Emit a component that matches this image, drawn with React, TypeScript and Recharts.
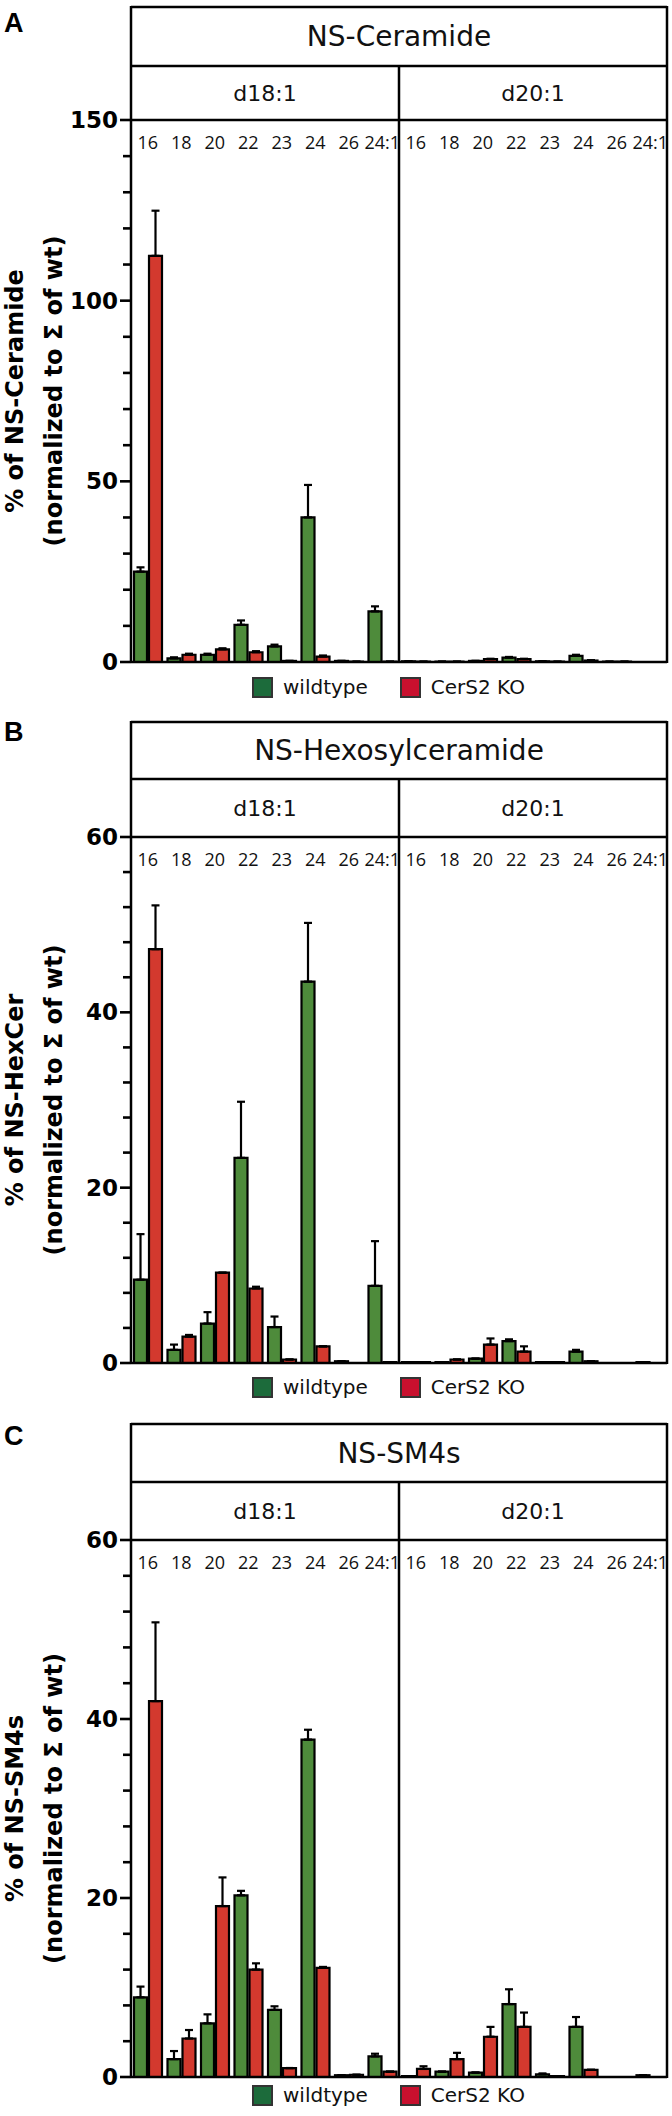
import { BarChart, Bar, XAxis, YAxis, ErrorBar, ReferenceLine } from 'recharts'

const chains = ['16', '18', '20', '22', '23', '24', '26', '24:1']
const bases = ['d18:1', 'd20:1']
const seriesNames = ['wildtype', 'CerS2 KO']

// NS-Ceramide (d18:1 values first, then d20:1)
const cerWt = [25, 1.0, 2.0, 10.3, 4.3, 40, 0.3, 14, 0.2, 0.1, 0.3, 1.2, 0.2, 1.7, 0.1, 0]
const cerWtErr = [1.2, 0.3, 0.3, 1.2, 0.5, 9, 0, 1.4, 0, 0, 0, 0.2, 0, 0.3, 0, 0]
const cerKo = [112.4, 2.0, 3.5, 2.7, 0.3, 1.5, 0.1, 0.1, 0.1, 0.1, 0.8, 0.8, 0.1, 0.4, 0.1, 0]
const cerKoErr = [12.5, 0.3, 0.3, 0.3, 0, 0.3, 0, 0, 0, 0, 0.1, 0.1, 0, 0.1, 0, 0]

// NS-Hexosylceramide
const hexWt = [9.5, 1.5, 4.5, 23.4, 4.1, 43.5, 0.2, 8.8, 0.1, 0.1, 0.5, 2.5, 0.1, 1.3, 0, 0.1]
const hexWtErr = [5.2, 0.6, 1.3, 6.4, 1.2, 6.7, 0, 5.1, 0, 0, 0, 0.2, 0, 0.2, 0, 0]
const hexKo = [47.2, 3.0, 10.3, 8.5, 0.4, 1.9, 0, 0.1, 0.1, 0.4, 2.1, 1.3, 0.1, 0.2, 0, 0]
const hexKoErr = [5.0, 0.2, 0, 0.2, 0, 0, 0, 0, 0, 0, 0.7, 0.6, 0, 0, 0, 0]

// NS-SM4s
const smWt = [8.9, 2.0, 6.0, 20.3, 7.5, 37.7, 0.2, 2.3, 0.1, 0.6, 0.5, 8.15, 0.3, 5.6, 0, 0.2]
const smWtErr = [1.2, 0.9, 1.0, 0.5, 0.4, 1.1, 0, 0.3, 0, 0, 0, 1.65, 0.1, 1.1, 0, 0]
const smKo = [42.0, 4.3, 19.1, 12.0, 1.0, 12.2, 0.25, 0.6, 0.9, 2.0, 4.5, 5.6, 0.1, 0.8, 0, 0]
const smKoErr = [8.8, 0.95, 3.2, 0.7, 0, 0.1, 0, 0, 0.3, 0.7, 1.1, 1.6, 0, 0, 0, 0]

const GREEN = '#4e8b3b'
const RED = '#d3392e'
const LEG_GREEN = '#1c6b3b'
const LEG_RED = '#c8102e'

const W = 672
const AXIS_W = 131
const RIGHT = 5
const plotRight = W - RIGHT

function buildRows(wt: number[], wtErr: number[], ko: number[], koErr: number[]) {
  return bases.flatMap((b, bi) =>
    chains.map((c, ci) => {
      const i = bi * chains.length + ci
      return { key: `${b}|${c}`, wt: wt[i], wtErr: [0, wtErr[i]], ko: ko[i], koErr: [0, koErr[i]] }
    })
  )
}

const XTick = (props: any) => {
  const { x, y, payload } = props
  return (
    <text x={x} y={y + 22} textAnchor="middle" dominantBaseline="central"
      fontFamily="'Open Sans', sans-serif" fontSize={18} fill="#111">
      {String(payload.value).split('|')[1]}
    </text>
  )
}

// every tick gets a mark; only multiples of labelStep get a number
const YTick = (props: any) => {
  const { x, y, payload, labelStep } = props
  const major = payload.value % labelStep === 0
  return (
    <g>
      <path d={`M${x - (major ? 11 : 8)},${y}H${x}`} stroke="#000" strokeWidth={2.6} fill="none" />
      {major && (
        <text x={x - 13} y={y} textAnchor="end" dominantBaseline="central"
          fontFamily="'DejaVu Sans', sans-serif" fontWeight="bold" fontSize={23} fill="#000">
          {payload.value}
        </text>
      )}
    </g>
  )
}

interface PanelProps {
  letter: string
  title: string
  yTitle: string
  rows: any[]
  yMax: number
  yStep: number
  labelStep: number
  panelTop: number
  panelBottom: number
  frameTop: number
  titleBottom: number
  plotTop: number
  baseline: number
  legendTop: number
  letterBase: number
}

function Panel(p: PanelProps) {
  const h = p.panelBottom - p.panelTop
  const r = (v: number) => v - p.panelTop
  const ticks: number[] = []
  for (let v = 0; v <= p.yMax; v += p.yStep) ticks.push(v)
  const mid = AXIS_W + (plotRight - AXIS_W) / 2
  const yMid = r((p.plotTop + p.baseline) / 2)
  const sw = 2.5
  return (
    <div style={{ position: 'absolute', left: 0, top: p.panelTop, width: W, height: h }}>
      <BarChart width={W} height={h} data={p.rows} barSize={13} barGap={2}
        margin={{ top: r(p.plotTop), right: RIGHT, bottom: p.panelBottom - p.baseline, left: 0 }}>
        <XAxis xAxisId={0} dataKey="key" orientation="top" mirror interval={0} tickLine={false}
          axisLine={false} tickSize={0} tickMargin={0} tick={<XTick />} />
        <YAxis width={AXIS_W} domain={[0, p.yMax]} ticks={ticks} interval={0} tickLine={false}
          tickSize={0} tickMargin={0} axisLine={{ stroke: '#000', strokeWidth: sw }}
          tick={(tp: any) => <YTick {...tp} labelStep={p.labelStep} />} allowDataOverflow />
        <ReferenceLine y={0} stroke="#000" strokeWidth={sw} />
        <ReferenceLine y={p.yMax} stroke="#000" strokeWidth={sw} />
        <Bar dataKey="wt" name={seriesNames[0]} fill={GREEN} stroke="#000" strokeWidth={2.2} isAnimationActive={false}>
          <ErrorBar dataKey="wtErr" width={4} stroke="#000" strokeWidth={2.2} direction="y" />
        </Bar>
        <Bar dataKey="ko" name={seriesNames[1]} fill={RED} stroke="#000" strokeWidth={2.2} isAnimationActive={false}>
          <ErrorBar dataKey="koErr" width={4} stroke="#000" strokeWidth={2.2} direction="y" />
        </Bar>
      </BarChart>
      <svg width={W} height={h} style={{ position: 'absolute', left: 0, top: 0, pointerEvents: 'none' }}>
        <line x1={AXIS_W} x2={AXIS_W} y1={r(p.frameTop) - 1} y2={r(p.plotTop)} stroke="#000" strokeWidth={sw} />
        <line x1={AXIS_W} x2={plotRight} y1={r(p.frameTop)} y2={r(p.frameTop)} stroke="#000" strokeWidth={sw} />
        <line x1={AXIS_W} x2={plotRight} y1={r(p.titleBottom)} y2={r(p.titleBottom)} stroke="#000" strokeWidth={sw} />
        <line x1={plotRight} x2={plotRight} y1={r(p.frameTop) - 1} y2={r(p.baseline) + 1} stroke="#000" strokeWidth={sw} />
        <line x1={mid} x2={mid} y1={r(p.titleBottom)} y2={r(p.baseline)} stroke="#000" strokeWidth={sw} />
        <text x={mid} y={r((p.frameTop + p.titleBottom) / 2)} textAnchor="middle" dominantBaseline="central"
          fontFamily="'DejaVu Sans', sans-serif" fontSize={28} fill="#111">{p.title}</text>
        {bases.map((b, i) => (
          <text key={b} x={AXIS_W + (plotRight - AXIS_W) * (i * 2 + 1) / 4} y={r((p.titleBottom + p.plotTop) / 2)}
            textAnchor="middle" dominantBaseline="central" fontFamily="'DejaVu Sans', sans-serif" fontSize={22} fill="#111">{b}</text>
        ))}
        <text x={4} y={r(p.letterBase)} fontFamily="'Liberation Sans', sans-serif" fontWeight="bold" fontSize={27} fill="#000">{p.letter}</text>
        <text transform={`translate(15, ${yMid}) rotate(-90)`} textAnchor="middle" dominantBaseline="central"
          fontFamily="'DejaVu Sans', sans-serif" fontWeight="bold" fontSize={24} fill="#000">{p.yTitle}</text>
        <text transform={`translate(54, ${yMid}) rotate(-90)`} textAnchor="middle" dominantBaseline="central"
          fontFamily="'DejaVu Sans', sans-serif" fontWeight="bold" fontSize={24} fill="#000">(normalized to Σ of wt)</text>
      </svg>
      <div style={{ position: 'absolute', left: 252, top: r(p.legendTop), display: 'flex', alignItems: 'center',
        fontFamily: "'DejaVu Sans', sans-serif", fontSize: 20, color: '#111' }}>
        {[LEG_GREEN, LEG_RED].map((c, i) => (
          <div key={i} style={{ display: 'flex', alignItems: 'center', marginRight: i === 0 ? 32 : 0 }}>
            <span style={{ width: 17, height: 17, background: c, border: '2px solid #333', marginRight: 10, display: 'inline-block' }} />
            <span>{seriesNames[i]}</span>
          </div>
        ))}
      </div>
    </div>
  )
}

export default function App() {
  return (
    <div style={{ position: 'absolute', left: 0, top: 0, width: W, height: 2116, background: '#fff' }}>
      <Panel letter="A" title="NS-Ceramide" yTitle="% of NS-Ceramide" rows={buildRows(cerWt, cerWtErr, cerKo, cerKoErr)}
        yMax={150} yStep={10} labelStep={50} panelTop={0} panelBottom={712} frameTop={7} titleBottom={66}
        plotTop={120} baseline={662} legendTop={675} letterBase={32} />
      <Panel letter="B" title="NS-Hexosylceramide" yTitle="% of NS-HexCer" rows={buildRows(hexWt, hexWtErr, hexKo, hexKoErr)}
        yMax={60} yStep={4} labelStep={20} panelTop={712} panelBottom={1414} frameTop={722} titleBottom={779}
        plotTop={837} baseline={1363} legendTop={1375} letterBase={741} />
      <Panel letter="C" title="NS-SM4s" yTitle="% of NS-SM4s" rows={buildRows(smWt, smWtErr, smKo, smKoErr)}
        yMax={60} yStep={4} labelStep={20} panelTop={1414} panelBottom={2116} frameTop={1424} titleBottom={1482}
        plotTop={1540} baseline={2077} legendTop={2083} letterBase={1445} />
    </div>
  )
}
